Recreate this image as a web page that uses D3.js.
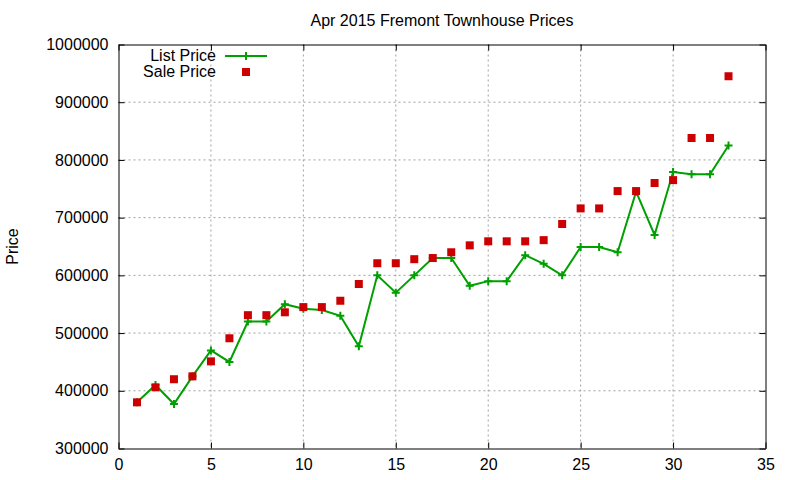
<!DOCTYPE html>
<html>
<head>
<meta charset="utf-8">
<script src="https://cdn.jsdelivr.net/npm/d3@7"></script>
<style>
	body { margin: 0; background: #fff; }
	svg { font-family: Arial, "Liberation Sans", sans-serif; }
	.grid line { stroke: #a0a0a0; stroke-dasharray: 2,3; }
</style>
</head>
<body>
<div id="chart"></div>
<script>
// house number on the x axis
var houses = [1,2,3,4,5,6,7,8,9,10,11,12,13,14,15,16,17,18,19,20,21,22,23,24,25,26,27,28,29,30,31,32,33];
var listPrice = [380000,410000,377000,425000,470000,450000,520000,520000,550000,542000,540000,530000,477000,600000,570000,600000,630000,630000,582000,590000,590000,635000,620000,600000,649000,649000,640000,745000,670000,779000,775000,775000,825000];
var salePrice = [380000,406000,420000,425000,451000,491000,531000,531000,536000,545000,545000,556000,585000,621000,621000,628000,630000,640000,652000,659000,659000,659000,661000,689000,716000,716000,746000,746000,760000,765000,838000,838000,945000];
var xTicks = [0,5,10,15,20,25,30,35];
var yTicks = [300000,400000,500000,600000,700000,800000,900000,1000000];

var width = 800, height = 480;
var pLeft = 118.5, pRight = 765.5, pTop = 44.5, pBottom = 448.5;

var svg = d3.select("#chart").append("svg")
	.attr("width", width)
	.attr("height", height);

var x = d3.scaleLinear().domain([0, 35]).range([pLeft, pRight]);
var y = d3.scaleLinear().domain([300000, 1000000]).range([pBottom, pTop]);

// grid
var grid = svg.append("g").attr("class", "grid");
grid.selectAll("line.gx").data(xTicks.slice(1, -1)).enter().append("line")
	.attr("x1", function(d){ return x(d); })
	.attr("x2", function(d){ return x(d); })
	.attr("y1", pTop).attr("y2", pBottom);
grid.selectAll("line.gy").data(yTicks.slice(1, -1)).enter().append("line")
	.attr("x1", pLeft).attr("x2", pRight)
	.attr("y1", function(d){ return y(d); })
	.attr("y2", function(d){ return y(d); });

// axes, ticks inward on all four sides
var fmt = function(d){ return d3.format("d")(d); };
svg.append("g")
	.attr("transform", "translate(0," + pBottom + ")")
	.call(d3.axisBottom(x).tickValues(xTicks).tickSizeInner(-6).tickSizeOuter(0).tickPadding(10).tickFormat(fmt));
svg.append("g")
	.attr("transform", "translate(0," + pTop + ")")
	.call(d3.axisTop(x).tickValues(xTicks).tickSizeInner(-6).tickSizeOuter(0).tickFormat(""));
svg.append("g")
	.attr("transform", "translate(" + pLeft + ",0)")
	.call(d3.axisLeft(y).tickValues(yTicks).tickSizeInner(-6).tickSizeOuter(0).tickPadding(10).tickFormat(fmt));
svg.append("g")
	.attr("transform", "translate(" + pRight + ",0)")
	.call(d3.axisRight(y).tickValues(yTicks).tickSizeInner(-6).tickSizeOuter(0).tickFormat(""));

svg.selectAll(".tick text")
	.attr("font-size", 16)
	.attr("font-family", "Arial, 'Liberation Sans', sans-serif")
	.attr("fill", "#000");
svg.selectAll(".domain").attr("stroke", "#000");
svg.selectAll(".tick line").attr("stroke", "#000");

// title and label
svg.append("text")
	.attr("x", (pLeft + pRight) / 2).attr("y", 26)
	.attr("text-anchor", "middle").attr("font-size", 16)
	.text("Apr 2015 Fremont Townhouse Prices");
svg.append("text")
	.attr("transform", "translate(18," + ((pTop + pBottom) / 2) + ") rotate(-90)")
	.attr("text-anchor", "middle").attr("font-size", 16)
	.text("Price");

var green = "#00a000", red = "#cc0000";

// list price line + markers
var line = d3.line()
	.x(function(d, i){ return x(houses[i]); })
	.y(function(d){ return y(d); });
svg.append("path")
	.datum(listPrice)
	.attr("fill", "none")
	.attr("stroke", green)
	.attr("stroke-width", 2)
	.attr("d", line);

svg.selectAll("path.plus").data(listPrice).enter().append("path")
	.attr("class", "plus")
	.attr("d", "M-4,0H4M0,-4V4")
	.attr("stroke", green)
	.attr("stroke-width", 2)
	.attr("transform", function(d, i){ return "translate(" + x(houses[i]) + "," + y(d) + ")"; });

// sale price squares
svg.selectAll("rect.sale").data(salePrice).enter().append("rect")
	.attr("class", "sale")
	.attr("x", function(d, i){ return x(houses[i]) - 4; })
	.attr("y", function(d){ return y(d) - 4; })
	.attr("width", 8).attr("height", 8)
	.attr("fill", red);

// legend
var legend = svg.append("g");
legend.append("text")
	.attr("x", 216).attr("y", 61)
	.attr("text-anchor", "end").attr("font-size", 16)
	.text("List Price");
legend.append("line")
	.attr("x1", 225).attr("x2", 267).attr("y1", 56).attr("y2", 56)
	.attr("stroke", green).attr("stroke-width", 2);
legend.append("path")
	.attr("d", "M-4,0H4M0,-4V4")
	.attr("stroke", green).attr("stroke-width", 2)
	.attr("transform", "translate(246,56)");
legend.append("text")
	.attr("x", 216).attr("y", 77)
	.attr("text-anchor", "end").attr("font-size", 16)
	.text("Sale Price");
legend.append("rect")
	.attr("x", 242).attr("y", 68).attr("width", 8).attr("height", 8)
	.attr("fill", red);
</script>
</body>
</html>
